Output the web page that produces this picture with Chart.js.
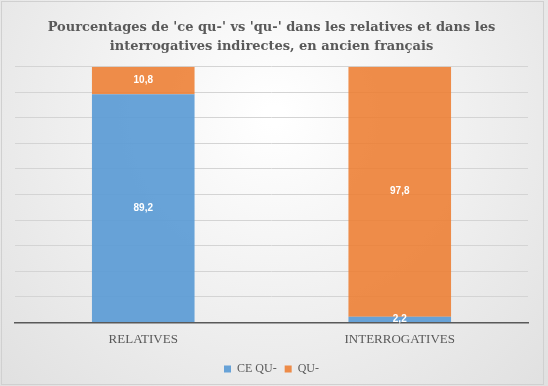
<!DOCTYPE html>
<html>
<head>
<meta charset="utf-8">
<script src="https://cdn.jsdelivr.net/npm/chart.js@4"></script>
<style>
  html, body { margin: 0; padding: 0; background: #fff; }
  #wrap { width: 548px; height: 386px; }
</style>
</head>
<body>
<div id="wrap"><canvas id="chart"></canvas></div>
<script>
const categories = ['RELATIVES', 'INTERROGATIVES'];
const ceQu = [89.2, 2.2];
const qu = [10.8, 97.8];
const seriesNames = ['CE QU-', 'QU-'];
const titleLines = ["Pourcentages de 'ce qu-' vs 'qu-' dans les relatives et dans les",
                    "interrogatives indirectes, en ancien français"];

const grey = '#595959';
const serif = "'Liberation Serif', 'DejaVu Serif', serif";

// background gradient + frame
const backdrop = {
    id: 'backdrop',
    beforeDraw(chart) {
        const ctx = chart.ctx;
        const w = chart.width, h = chart.height;
        ctx.save();
        const g = ctx.createRadialGradient(w / 2, h * 0.3, 10, w / 2, h * 0.3, w * 0.75);
        g.addColorStop(0, '#ffffff');
        g.addColorStop(1, '#dedede');
        ctx.fillStyle = g;
        ctx.fillRect(0, 0, w, h);
        ctx.strokeStyle = '#d0d0d0';
        ctx.lineWidth = 1;
        ctx.strokeRect(1.5, 1.5, w - 6, h - 3);
        ctx.restore();
    }
};

// value labels in the middle of each segment
const valueLabels = {
    id: 'valueLabels',
    afterDatasetsDraw(chart) {
        const ctx = chart.ctx;
        ctx.save();
        ctx.font = "bold 10px 'Liberation Sans', Arial, sans-serif";
        ctx.fillStyle = '#ffffff';
        ctx.textAlign = 'center';
        ctx.textBaseline = 'middle';
        chart.data.datasets.forEach((ds, i) => {
            chart.getDatasetMeta(i).data.forEach((bar, j) => {
                const y = (bar.y + bar.base) / 2;
                ctx.fillText(String(ds.data[j]).replace('.', ','), bar.x, y);
            });
        });
        ctx.restore();
    }
};

new Chart(document.getElementById('chart'), {
    type: 'bar',
    data: {
        labels: categories,
        datasets: [{
            label: seriesNames[0],
            data: ceQu,
            backgroundColor: 'rgba(91, 155, 213, 0.92)',
            categoryPercentage: 0.8,
            barPercentage: 0.5
        }, {
            label: seriesNames[1],
            data: qu,
            backgroundColor: 'rgba(237, 125, 49, 0.88)',
            categoryPercentage: 0.8,
            barPercentage: 0.5
        }]
    },
    options: {
        responsive: true,
        maintainAspectRatio: false,
        animation: false,
        layout: { padding: { left: 15, right: 20, bottom: 1 } },
        scales: {
            x: {
                stacked: true,
                grid: { display: false },
                border: { color: grey, width: 1.5 },
                ticks: { color: grey, font: { family: serif, size: 13 }, padding: 1 },
                afterFit(scale) { scale.height += 7; }
            },
            y: {
                stacked: true,
                min: 0,
                max: 100,
                ticks: { display: false, stepSize: 10 },
                border: { display: false },
                grid: { color: '#d4d4d4', drawTicks: false },
                afterFit(scale) { scale.width = 0; }
            }
        },
        plugins: {
            title: {
                display: true,
                text: titleLines,
                color: grey,
                font: { family: "'DejaVu Serif', serif", size: 13, weight: 'bold', lineHeight: 1.45 },
                padding: { top: 18, bottom: 11 }
            },
            legend: {
                position: 'bottom',
                labels: {
                    color: grey,
                    boxWidth: 7,
                    boxHeight: 7,
                    padding: 8,
                    font: { family: serif, size: 12 }
                }
            },
            tooltip: { enabled: false }
        }
    },
    plugins: [backdrop, valueLabels]
});
</script>
</body>
</html>
